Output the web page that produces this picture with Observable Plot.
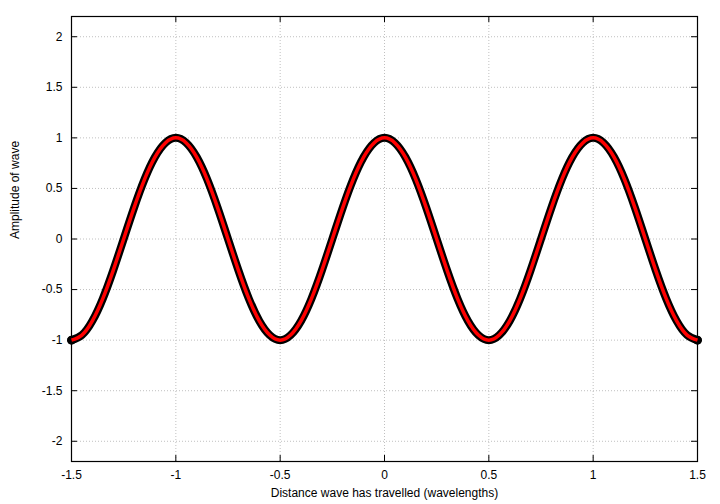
<!DOCTYPE html>
<html>
<head>
<meta charset="utf-8">
<script src="https://cdn.jsdelivr.net/npm/d3@7"></script>
<script src="https://cdn.jsdelivr.net/npm/@observablehq/plot@0.6"></script>
<style>
  html, body { margin: 0; padding: 0; background: white; }
</style>
</head>
<body>
<div id="chart"></div>
<script>
// Distance travelled (wavelengths)
const distance = [
  -1.50, -1.45, -1.40, -1.35, -1.30, -1.25, -1.20, -1.15, -1.10, -1.05,
  -1.00, -0.95, -0.90, -0.85, -0.80, -0.75, -0.70, -0.65, -0.60, -0.55,
  -0.50, -0.45, -0.40, -0.35, -0.30, -0.25, -0.20, -0.15, -0.10, -0.05,
   0.00,  0.05,  0.10,  0.15,  0.20,  0.25,  0.30,  0.35,  0.40,  0.45,
   0.50,  0.55,  0.60,  0.65,  0.70,  0.75,  0.80,  0.85,  0.90,  0.95,
   1.00,  1.05,  1.10,  1.15,  1.20,  1.25,  1.30,  1.35,  1.40,  1.45,
   1.50
];
// Amplitude of wave
const amplitude = [
  -1.00, -0.95, -0.81, -0.59, -0.31, 0.00, 0.31, 0.59, 0.81, 0.95,
   1.00,  0.95,  0.81,  0.59,  0.31, 0.00, -0.31, -0.59, -0.81, -0.95,
  -1.00, -0.95, -0.81, -0.59, -0.31, 0.00, 0.31, 0.59, 0.81, 0.95,
   1.00,  0.95,  0.81,  0.59,  0.31, 0.00, -0.31, -0.59, -0.81, -0.95,
  -1.00, -0.95, -0.81, -0.59, -0.31, 0.00, 0.31, 0.59, 0.81, 0.95,
   1.00,  0.95,  0.81,  0.59,  0.31, 0.00, -0.31, -0.59, -0.81, -0.95,
  -1.00
];
const xTicks = [-1.5, -1, -0.5, 0, 0.5, 1, 1.5];
const yTicks = [-2, -1.5, -1, -0.5, 0, 0.5, 1, 1.5, 2];
const xLabel = "Distance wave has travelled (wavelengths)";
const yLabel = "Amplitude of wave";

const data = distance.map((x, i) => ({x, y: amplitude[i]}));
const ends = [data[0], data[data.length - 1]];

const W = 720, H = 504;
const mL = 71, mR = 23, mT = 16, mB = 43;
const innerW = W - mL - mR, innerH = H - mT - mB;
const tickLen = 6;
const fmt = d => String(d);

const chart = Plot.plot({
  width: W,
  height: H,
  marginLeft: mL,
  marginRight: mR,
  marginTop: mT,
  marginBottom: mB,
  x: {domain: [-1.5, 1.5]},
  y: {domain: [-2.2, 2.2]},
  style: {fontFamily: "'Liberation Sans', Arial, Helvetica, sans-serif", fontSize: "12px", background: "white", color: "black"},
  marks: [
    // dotted grid
    Plot.ruleX(xTicks, {x: d => d, stroke: "#c0c0c0", strokeWidth: 1, strokeDasharray: "1,2"}),
    Plot.ruleY(yTicks, {y: d => d, stroke: "#c0c0c0", strokeWidth: 1, strokeDasharray: "1,2"}),
    // inward ticks on all four sides
    Plot.ruleX(xTicks, {x: d => d, stroke: "black", insetTop: innerH - tickLen}),
    Plot.ruleX(xTicks, {x: d => d, stroke: "black", insetBottom: innerH - tickLen}),
    Plot.ruleY(yTicks, {y: d => d, stroke: "black", insetRight: innerW - tickLen}),
    Plot.ruleY(yTicks, {y: d => d, stroke: "black", insetLeft: innerW - tickLen}),
    // tick labels
    Plot.axisX(xTicks, {tickSize: 0, tickPadding: 9, tickFormat: fmt, label: null, fontSize: 12}),
    Plot.axisY(yTicks, {tickSize: 0, tickPadding: 9, tickFormat: fmt, label: null, fontSize: 12}),
    // frame
    Plot.frame({stroke: "black", strokeWidth: 1.2}),
    // wave: thick black under red
    Plot.line(data, {x: "x", y: "y", stroke: "black", strokeWidth: 8, curve: "natural", strokeLinecap: "round", strokeLinejoin: "round"}),
    Plot.dot(ends, {x: "x", y: "y", r: 4.5, fill: "black", stroke: "none"}),
    Plot.line(data, {x: "x", y: "y", stroke: "#ff0000", strokeWidth: 3.5, curve: "natural", strokeLinecap: "butt"}),
    // axis titles
    Plot.text([xLabel], {text: d => d, frameAnchor: "bottom", dy: 35, fontSize: 12, fill: "black"}),
    Plot.text([yLabel], {text: d => d, frameAnchor: "left", dx: -56, rotate: -90, fontSize: 12, fill: "black"})
  ]
});
document.getElementById("chart").appendChild(chart);
</script>
</body>
</html>
